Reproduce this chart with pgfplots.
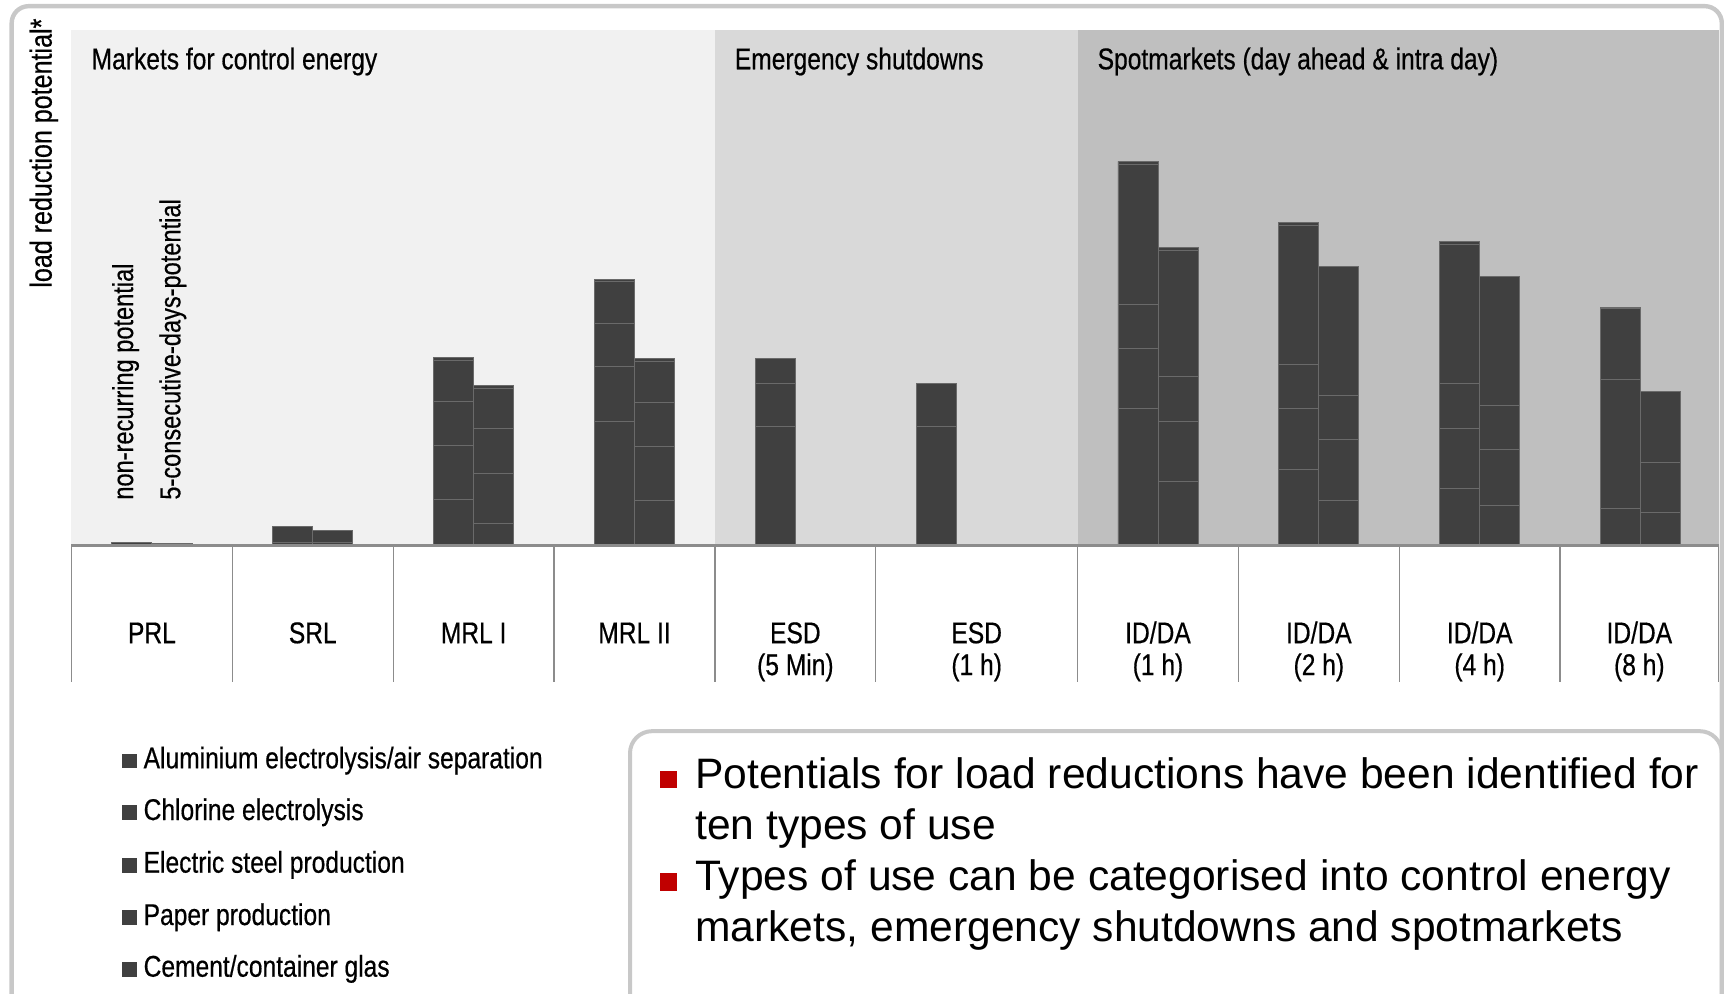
\documentclass[border=0pt]{standalone}
\usepackage{fontspec}
\setmainfont{Liberation Sans}
\newfontfamily\din[FakeStretch=0.82,FakeBold=0.5]{Liberation Sans}
\usepackage{pgfplots}
\usepackage{pgfplotstable}
\pgfplotsset{compat=1.18}
\definecolor{barc}{HTML}{404040}
\definecolor{segc}{HTML}{6A6A6A}
\definecolor{rA}{HTML}{F1F1F1}
\definecolor{rB}{HTML}{D9D9D9}
\definecolor{rC}{HTML}{BFBFBF}
\definecolor{framec}{HTML}{C8C8C8}
\definecolor{basec}{HTML}{8C8C8C}
\definecolor{bulc}{HTML}{C00000}

% x position (left bar / right bar of each type of use), stacked segments
\pgfplotstableread{
x      A      B      C     D      E
120.0  3.0    0      0     0      0
156.4  2.0    0      0     0      0
266.3  2.7    14.8   0     0      0
302.7  2.7    11.2   0     0      0
412.6  42.0   49.0   40.0  37.0   2.5
449.0  20.3   45.5   40.3  36.4   2.5
558.9  112.9  49.4   39.9  37.4   1.9
595.3  40.7   49.4   40.3  37.0   2.9
705.2  108.3  0      39.3  22.7   0
741.6  0      0      0     0      0
851.5  108.3  0      39.3  0      0
887.9  0      0      0     0      0
1035.0 124.3  55.2   40.0  127.3  2.4
1071.4 57.7   54.6   40.9  114.9  2.5
1181.3 69.3   54.8   40.7  126.4  2.7
1217.7 41.1   55.1   40.4  117.3  0
1327.6 52.0   54.6   40.9  126.4  2.4
1364.0 36.6   50.6   40.4  117.0  0
1473.9 33.8   117.3  0     64.2   1.3
1510.3 30.2   45.5   0     64.6   0
}\loadtab

\newcommand{\dinfont}{\din\fontsize{15}{16}\selectfont}
\newcommand{\dinlabel}{\din\fontsize{15.3}{16}\selectfont}
\newcommand{\dinsmall}{\din\fontsize{14.4}{15.5}\selectfont}
\newcommand{\boxfont}{\fontsize{21.3}{25.6}\selectfont}

\begin{document}
\begin{tikzpicture}
\begin{axis}[
  x=0.55pt, y=0.55pt,
  xmin=65, xmax=1563, ymin=0, ymax=469,
  hide axis, clip=false,
  ybar stacked, bar width=36.4, reverse stacked plots=false,
]
% frames
\draw[framec, line width=2.2pt, rounded corners=8.5pt] (axis cs:10.6,490.4) rectangle (axis cs:1566,-440);
\draw[framec, line width=2.0pt, rounded corners=11pt] (axis cs:573,-169) rectangle (axis cs:1566,-440);
% backgrounds
\fill[rA] (axis cs:65,0) rectangle (axis cs:650.2,469);
\fill[rB] (axis cs:650.2,0) rectangle (axis cs:980,469);
\fill[rC] (axis cs:980,0) rectangle (axis cs:1563,469);

\addplot[fill=barc, draw=segc, line width=0.45pt] table[x=x,y=A]{\loadtab};
\addplot[fill=barc, draw=segc, line width=0.45pt] table[x=x,y=B]{\loadtab};
\addplot[fill=barc, draw=segc, line width=0.45pt] table[x=x,y=C]{\loadtab};
\addplot[fill=barc, draw=segc, line width=0.45pt] table[x=x,y=D]{\loadtab};
\addplot[fill=barc, draw=segc, line width=0.45pt] table[x=x,y=E]{\loadtab};

% baseline and dividers
\pgfplotsinvokeforeach{65,211.3,357.6,503.9,650.2,796.5,980,1126.3,1272.6,1418.9,1563}{
  \draw[basec, line width=0.65pt] (axis cs:#1,0) -- (axis cs:#1,-124);
}
\draw[basec, line width=1.4pt] (axis cs:65,0) -- (axis cs:1563,0);

% region titles
\node[font=\dinfont, anchor=base west, inner sep=0pt] at (axis cs:83,433) {Markets for control energy};
\node[font=\dinfont, anchor=base west, inner sep=0pt] at (axis cs:668,433) {Emergency shutdowns};
\node[font=\dinfont, anchor=base west, inner sep=0pt] at (axis cs:998,433) {Spotmarkets (day ahead \& intra day)};

% axis label and bar explanations
\node[font=\dinlabel, rotate=90, anchor=base east, inner sep=0pt] at (axis cs:47,479.5) {load reduction potential*};
\node[font=\dinsmall, rotate=90, anchor=base west, inner sep=0pt] at (axis cs:121,41.2) {non-recurring potential};
\node[font=\dinsmall, rotate=90, anchor=base west, inner sep=0pt] at (axis cs:164,41.2) {5-consecutive-days-potential};

% category labels
\node[font=\dinfont, anchor=base, inner sep=0pt] at (axis cs:138.2,-89) {PRL};
\node[font=\dinfont, anchor=base, inner sep=0pt] at (axis cs:284.5,-89) {SRL};
\node[font=\dinfont, anchor=base, inner sep=0pt] at (axis cs:430.8,-89) {MRL I};
\node[font=\dinfont, anchor=base, inner sep=0pt] at (axis cs:577.1,-89) {MRL II};
\node[font=\dinfont, anchor=base, inner sep=0pt] at (axis cs:723.4,-89) {ESD};
\node[font=\dinfont, anchor=base, inner sep=0pt] at (axis cs:723.4,-118) {(5 Min)};
\node[font=\dinfont, anchor=base, inner sep=0pt] at (axis cs:888.3,-89) {ESD};
\node[font=\dinfont, anchor=base, inner sep=0pt] at (axis cs:888.3,-118) {(1 h)};
\node[font=\dinfont, anchor=base, inner sep=0pt] at (axis cs:1053.2,-89) {ID/DA};
\node[font=\dinfont, anchor=base, inner sep=0pt] at (axis cs:1053.2,-118) {(1 h)};
\node[font=\dinfont, anchor=base, inner sep=0pt] at (axis cs:1199.5,-89) {ID/DA};
\node[font=\dinfont, anchor=base, inner sep=0pt] at (axis cs:1199.5,-118) {(2 h)};
\node[font=\dinfont, anchor=base, inner sep=0pt] at (axis cs:1345.8,-89) {ID/DA};
\node[font=\dinfont, anchor=base, inner sep=0pt] at (axis cs:1345.8,-118) {(4 h)};
\node[font=\dinfont, anchor=base, inner sep=0pt] at (axis cs:1491,-89) {ID/DA};
\node[font=\dinfont, anchor=base, inner sep=0pt] at (axis cs:1491,-118) {(8 h)};

% legend list
\fill[barc] (axis cs:110.7,-202.8) rectangle (axis cs:124.4,-189.5);
\node[font=\dinfont, anchor=base west, inner sep=0pt] at (axis cs:130.3,-202.8) {Aluminium electrolysis/air separation};
\fill[barc] (axis cs:110.7,-249.8) rectangle (axis cs:124.4,-236.5);
\node[font=\dinfont, anchor=base west, inner sep=0pt] at (axis cs:130.3,-249.8) {Chlorine electrolysis};
\fill[barc] (axis cs:110.7,-297.7) rectangle (axis cs:124.4,-284.4);
\node[font=\dinfont, anchor=base west, inner sep=0pt] at (axis cs:130.3,-297.7) {Electric steel production};
\fill[barc] (axis cs:110.7,-345.3) rectangle (axis cs:124.4,-332.0);
\node[font=\dinfont, anchor=base west, inner sep=0pt] at (axis cs:130.3,-345.3) {Paper production};
\fill[barc] (axis cs:110.7,-392.3) rectangle (axis cs:124.4,-379.0);
\node[font=\dinfont, anchor=base west, inner sep=0pt] at (axis cs:130.3,-392.3) {Cement/container glas};

% text box
\fill[bulc] (axis cs:600,-221) rectangle (axis cs:616,-205);
\node[font=\boxfont, anchor=base west, inner sep=0pt] at (axis cs:632,-221) {Potentials for load reductions have been identified for};
\node[font=\boxfont, anchor=base west, inner sep=0pt] at (axis cs:632,-267.5) {ten types of use};
\fill[bulc] (axis cs:600,-314) rectangle (axis cs:616,-298);
\node[font=\boxfont, anchor=base west, inner sep=0pt] at (axis cs:632,-314) {Types of use can be categorised into control energy};
\node[font=\boxfont, anchor=base west, inner sep=0pt] at (axis cs:632,-360.5) {markets, emergency shutdowns and spotmarkets};

\coordinate (bbSW) at (axis cs:0,-408);
\coordinate (bbNE) at (axis cs:1568,496);
\end{axis}
\pgfresetboundingbox
\useasboundingbox (bbSW) rectangle (bbNE);
\end{tikzpicture}
\end{document}
